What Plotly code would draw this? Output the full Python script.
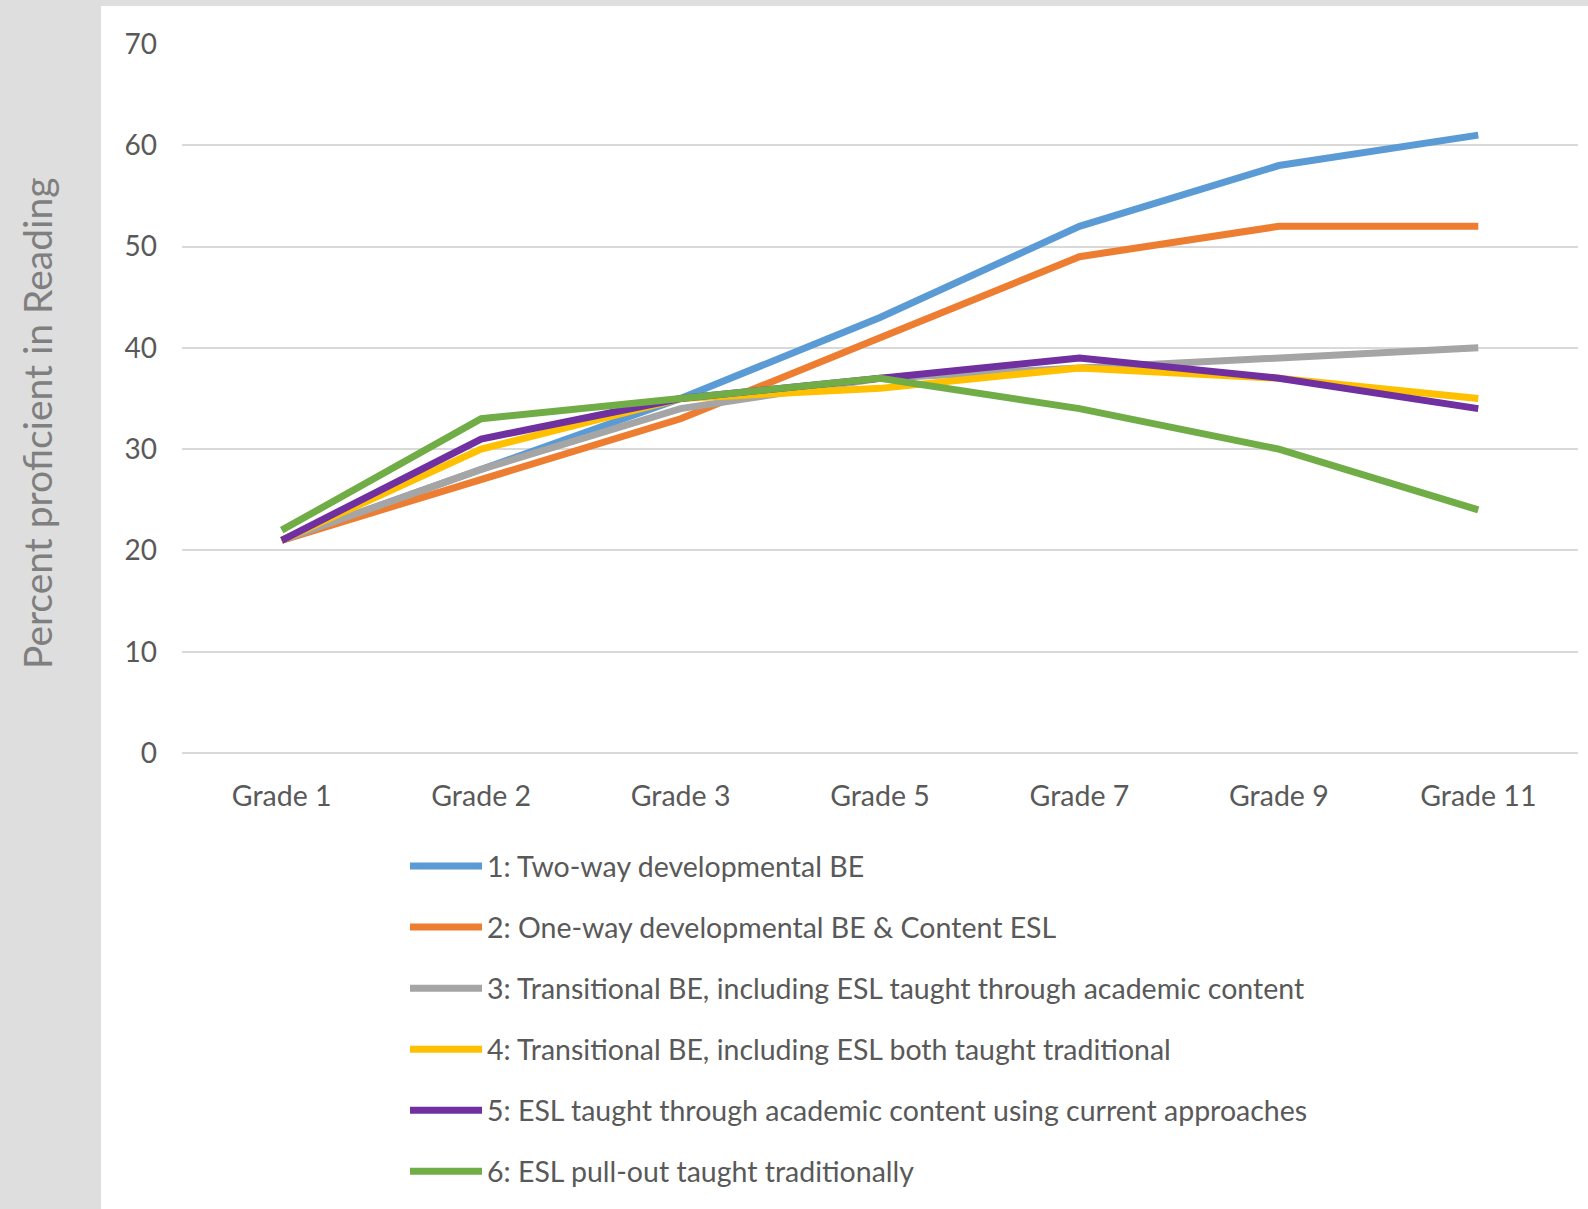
import plotly.graph_objects as go

grades = ["Grade 1", "Grade 2", "Grade 3", "Grade 5", "Grade 7", "Grade 9", "Grade 11"]

s1_name = "1: Two-way developmental BE"
s1 = [21, 28, 35, 43, 52, 58, 61]
s2_name = "2: One-way developmental BE & Content ESL"
s2 = [21, 27, 33, 41, 49, 52, 52]
s3_name = "3: Transitional BE, including ESL taught through academic content"
s3 = [21, 28, 34, 37, 38, 39, 40]
s4_name = "4: Transitional BE, including ESL both taught traditional"
s4 = [21, 30, 35, 36, 38, 37, 35]
s5_name = "5: ESL taught through academic content using current approaches"
s5 = [21, 31, 35, 37, 39, 37, 34]
s6_name = "6: ESL pull-out taught traditionally"
s6 = [22, 33, 35, 37, 34, 30, 24]

y_ticks = [0, 10, 20, 30, 40, 50, 60, 70]

series = [
    (s1_name, s1, "#5B9BD5"),
    (s2_name, s2, "#ED7D31"),
    (s3_name, s3, "#A5A5A5"),
    (s4_name, s4, "#FFC000"),
    (s5_name, s5, "#7030A0"),
    (s6_name, s6, "#70AD47"),
]

FONT = "Lato"
W, H = 1588, 1209
ML, MR, MT, MB = 182, 10, 44, 456
pw = W - ML - MR
ph = H - MT - MB

def px_x(p):
    return (p - ML) / pw

def px_y(p):
    return (H - MB - p) / ph

fig = go.Figure()
for i, (name, vals, col) in enumerate(series):
    fig.add_trace(go.Scatter(
        x=grades, y=vals, name=name, mode="lines",
        line=dict(color=col, width=7),
        legendgroup=f"g{i}",
    ))

fig.update_layout(
    width=W, height=H,
    margin=dict(l=ML, r=MR, t=MT, b=MB),
    paper_bgcolor="#DEDEDE",
    plot_bgcolor="white",
    font=dict(family=FONT, color="#595959", size=28),
    showlegend=True,
    legend=dict(
        x=px_x(405), y=px_y(841), xanchor="left", yanchor="top",
        traceorder="grouped", tracegroupgap=21, itemwidth=72,
        font=dict(family=FONT, size=28.5, color="#595959"),
        bgcolor="rgba(0,0,0,0)",
    ),
    xaxis=dict(
        type="category", showgrid=False, zeroline=False, showline=False,
        ticks="", ticklabelstandoff=23,
        tickfont=dict(family=FONT, size=28.5, color="#595959"),
        range=[-0.5, len(grades) - 0.5],
    ),
    yaxis=dict(
        range=[0, 70], tickvals=y_ticks, showgrid=True, gridcolor="#D9D9D9",
        gridwidth=2, zeroline=True, zerolinecolor="#D9D9D9", zerolinewidth=2,
        showline=False, ticks="",
        ticklabelstandoff=24,
        tickfont=dict(family=FONT, size=28, color="#595959"),
    ),
    shapes=[dict(
        type="rect", xref="paper", yref="paper", layer="below",
        x0=px_x(101), x1=px_x(W + 5), y0=px_y(H + 5), y1=px_y(6),
        fillcolor="white", line=dict(width=0),
    )],
    annotations=[dict(
        text="Percent proficient in Reading", textangle=-90,
        xref="paper", yref="paper", x=px_x(37), y=px_y(424),
        xanchor="center", yanchor="middle", showarrow=False,
        font=dict(family=FONT, size=39, color="#7F7F7F"),
    )],
)

fig.write_html("out.html")
